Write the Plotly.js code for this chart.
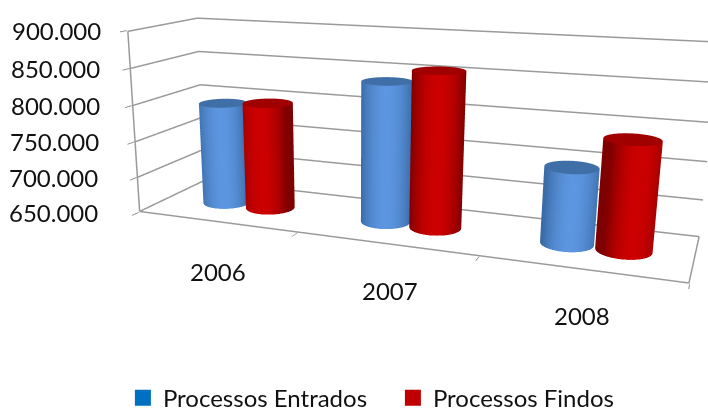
<!DOCTYPE html>
<html><head><meta charset="utf-8">
<script src="https://cdn.plot.ly/plotly-3.0.1.min.js"></script>
<style>html,body{margin:0;padding:0;background:#fff;overflow:hidden;width:708px;height:408px}</style></head>
<body><div id="chart" style="position:absolute;left:-354px;top:-204px;width:1416px;height:816px"></div>
<script>
const years = ['2006','2007','2008'];
const entrados = [794000, 840000, 749000];
const findos = [799000, 858000, 790000];
const yTicks = [650000,700000,750000,800000,850000,900000];
const yTickText = ['650.000','700.000','750.000','800.000','850.000','900.000'];
const seriesNames = ['Processos Entrados','Processos Findos'];
const eye=[1.107,-3.259,0.763],center=[-0.123,-0.225,-0.217],up=[0,0.008,1],ax=2,ay=0.488,az=0.686;

const blue=[[0,'#5c96e0'],[0.5,'#3a6aa6'],[0.5,'#3f6fa6'],[1,'#3f6fa6']];
const red=[[0,'#cc0000'],[0.5,'#7c0000'],[0.5,'#a00000'],[1,'#a00000']];
function cyl(cx,val,name,scale,bias,rx){
 const n=48,base=650000,Xs=[],Ys=[],Zs=[],S=[];
 const rPhys=rx*ax/3, ry=rPhys/ay, yc=0.5;
 const ex=eye[0]-((cx/3-.5)*ax), ey=eye[1];const el=Math.hypot(ex,ey);
 [[base,1,0],[val,1,0],[val,1,1],[val,0,1]].forEach(([z,k,cap])=>{const X=[],Y=[],Z=[],C=[];
  for(let i=0;i<=n;i++){const a=i/n*2*Math.PI,c=Math.cos(a),s=Math.sin(a);
   X.push(cx+k*rx*c);Y.push(yc+k*ry*s);Z.push(z);
   const sv=Math.abs((c*ey-s*ex)/el+bias);
   C.push(cap?1:Math.min(1,sv*sv)*0.49);}
  Xs.push(X);Ys.push(Y);Zs.push(Z);S.push(C);});
 return {type:'surface',x:Xs,y:Ys,z:Zs,surfacecolor:S,cmin:0,cmax:1,colorscale:scale,showscale:false,name,hoverinfo:'skip',
  lighting:{ambient:1,diffuse:0,specular:0,fresnel:0,roughness:1}};
}
const traces=[];
const gridLine={color:'#9a9a9a',width:3};
const e=0.004, zLow=651000, zHigh=899000;
function seg(x,y,z){traces.push({type:'scatter3d',mode:'lines',x,y,z,line:gridLine,showlegend:false,hoverinfo:'skip'});}
yTicks.forEach(v=>{const w=Math.min(zHigh,Math.max(zLow,v));seg([e,e,3-e],[e,1-e,1-e],[w,w,w]);});
seg([e,e],[e,e],[zLow,zHigh]);
seg([e,3-e,3-e],[e,e,1-e],[zLow,zLow,zLow]);
years.forEach((y,i)=>{
 traces.push(cyl(i+.5-.132,entrados[i],seriesNames[0],blue,(i-1)*.1,.137));
 traces.push(cyl(i+.5+.155,findos[i],seriesNames[1],red,(i-1)*.3,.141));
});
[['#0070c0',0],['#c00000',1]].forEach(([col,k])=>traces.push({type:'scatter3d',mode:'markers',x:[null],y:[null],z:[null],name:seriesNames[k],showlegend:true,marker:{symbol:'square',size:16,color:col}}));
const zShift=[-39,-36,-33,-30,-27,-24];
const xLabelShift=[[3,49],[5,46],[2,46]];
const ann=[];
const txt={family:'Lato',size:24,color:'#111'};
yTicks.forEach((v,i)=>ann.push({x:0,y:0,z:v,text:yTickText[i],showarrow:false,xanchor:'right',xshift:zShift[i],font:txt}));
years.forEach((y,i)=>ann.push({x:i+.5,y:0,z:650000,text:y,showarrow:false,xshift:xLabelShift[i][0],yshift:-xLabelShift[i][1],font:txt}));
const ax3={title:{text:''},showbackground:false,showspikes:false,zeroline:false,showline:false};
const layout={width:1416,height:816,margin:{l:0,r:0,t:0,b:0},paper_bgcolor:'#fff',showlegend:true,
 legend:{orientation:'h',x:0.3368,y:0.262,xanchor:'left',yanchor:'middle',font:txt,bgcolor:'rgba(0,0,0,0)',entrywidth:225,entrywidthmode:'pixels'},
 scene:{domain:{x:[0,1],y:[0,1]},aspectmode:'manual',aspectratio:{x:ax,y:ay,z:az},annotations:ann,
  camera:{eye:{x:eye[0],y:eye[1],z:eye[2]},center:{x:center[0],y:center[1],z:center[2]},up:{x:up[0],y:up[1],z:up[2]},projection:{type:'perspective'}},
  xaxis:{...ax3,range:[0,3],tickvals:[0,1,2,3],showticklabels:false,showgrid:false,ticks:'outside',ticklen:8,tickcolor:'#949494',tickwidth:2},
  yaxis:{...ax3,range:[0,1],showticklabels:false,showgrid:false,ticks:''},
  zaxis:{...ax3,range:[650000,900000],tickvals:yTicks,showticklabels:false,showgrid:false,ticks:'outside',ticklen:10,tickcolor:'#949494',tickwidth:2}
 }};
Plotly.newPlot('chart',traces,layout,{displayModeBar:false});
</script></body></html>
